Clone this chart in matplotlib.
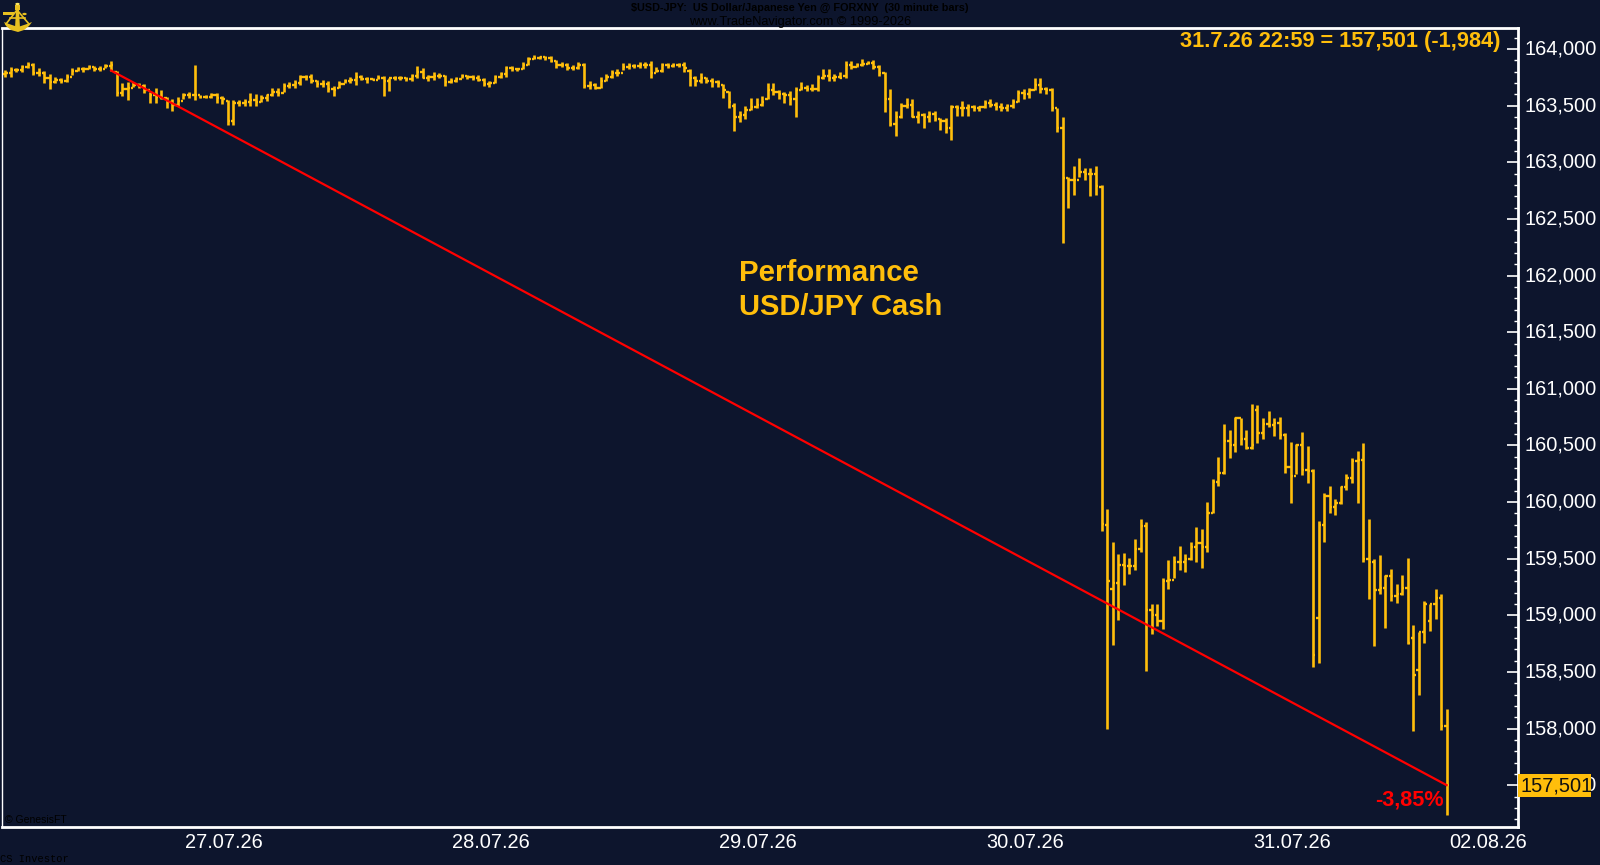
import matplotlib
matplotlib.use("Agg")
import matplotlib.pyplot as plt
from matplotlib.lines import Line2D
from matplotlib.patches import Polygon, Circle, Rectangle
from matplotlib.ticker import MultipleLocator

highs = [
163.815,163.844,163.835,163.859,163.882,163.879,163.835,163.809,163.779,163.750,
163.741,163.779,163.835,163.838,163.844,163.859,163.853,163.853,163.865,163.894,
163.806,163.697,163.712,163.706,163.697,163.691,163.624,163.653,163.638,163.579,
163.559,163.579,163.609,163.618,163.859,163.594,163.594,163.609,163.609,163.585,
163.547,163.547,163.550,163.559,163.609,163.600,163.594,163.603,163.653,163.653,
163.697,163.712,163.726,163.771,163.771,163.776,163.726,163.726,163.718,163.674,
163.721,163.732,163.750,163.800,163.771,163.750,163.741,163.771,163.765,163.741,
163.765,163.762,163.756,163.779,163.850,163.829,163.768,163.794,163.791,163.771,
163.741,163.756,163.779,163.774,163.771,163.771,163.741,163.718,163.771,163.800,
163.853,163.853,163.835,163.888,163.932,163.947,163.938,163.938,163.938,163.903,
163.888,163.879,163.859,163.888,163.879,163.718,163.697,163.750,163.779,163.815,
163.821,163.874,163.874,163.865,163.882,163.888,163.894,163.844,163.879,163.874,
163.874,163.874,163.888,163.824,163.765,163.785,163.756,163.741,163.726,163.688,
163.629,163.521,163.453,163.497,163.571,163.571,163.588,163.697,163.697,163.638,
163.624,163.632,163.668,163.706,163.682,163.688,163.771,163.824,163.821,163.776,
163.800,163.894,163.894,163.874,163.909,163.897,163.903,163.859,163.800,163.644,
163.453,163.521,163.565,163.556,163.456,163.438,163.456,163.453,163.388,163.388,
163.506,163.506,163.541,163.512,163.506,163.500,163.550,163.556,163.529,163.521,
163.515,163.556,163.638,163.647,163.653,163.741,163.747,163.662,163.653,163.482,
163.397,162.874,162.968,163.035,162.953,162.947,162.968,162.800,159.936,159.650,
159.540,159.550,159.510,159.670,159.850,159.820,159.100,159.100,159.330,159.490,
159.520,159.610,159.540,159.645,159.780,159.760,160.000,160.200,160.395,160.690,
160.640,160.750,160.740,160.640,160.870,160.860,160.745,160.800,160.740,160.750,
160.610,160.530,160.510,160.620,160.495,160.290,159.835,160.080,160.140,160.030,
160.140,160.250,160.390,160.455,160.520,159.850,159.500,159.530,159.360,159.405,
159.280,159.355,159.510,158.915,158.850,159.125,159.100,159.230,159.190,158.170]

lows = [
163.756,163.756,163.800,163.800,163.829,163.771,163.762,163.697,163.644,163.697,
163.697,163.712,163.771,163.806,163.800,163.821,163.809,163.809,163.835,163.806,
163.588,163.588,163.550,163.662,163.653,163.609,163.526,163.521,163.556,163.476,
163.453,163.497,163.559,163.571,163.550,163.565,163.565,163.565,163.526,163.515,
163.329,163.329,163.500,163.500,163.500,163.500,163.535,163.541,163.588,163.585,
163.624,163.653,163.653,163.682,163.726,163.697,163.662,163.662,163.624,163.585,
163.653,163.697,163.697,163.682,163.726,163.703,163.726,163.735,163.588,163.629,
163.726,163.726,163.718,163.718,163.741,163.741,163.718,163.726,163.741,163.674,
163.697,163.706,163.747,163.735,163.726,163.718,163.674,163.668,163.703,163.741,
163.756,163.806,163.806,163.821,163.859,163.909,163.909,163.903,163.882,163.835,
163.844,163.815,163.815,163.821,163.653,163.647,163.644,163.653,163.718,163.741,
163.765,163.815,163.824,163.829,163.835,163.829,163.741,163.794,163.800,163.835,
163.844,163.844,163.800,163.676,163.676,163.697,163.697,163.668,163.662,163.565,
163.482,163.276,163.359,163.382,163.462,163.476,163.497,163.559,163.594,163.559,
163.521,163.506,163.403,163.638,163.632,163.632,163.632,163.732,163.721,163.721,
163.741,163.747,163.821,163.838,163.853,163.868,163.821,163.765,163.447,163.321,
163.235,163.388,163.476,163.397,163.344,163.306,163.359,163.368,163.285,163.262,
163.197,163.409,163.409,163.409,163.456,163.453,163.482,163.491,163.462,163.453,
163.453,163.476,163.535,163.556,163.565,163.638,163.609,163.600,163.453,163.271,
162.291,162.600,162.712,162.874,162.844,162.706,162.712,159.745,158.000,158.740,
158.960,159.270,159.365,159.400,159.560,158.510,158.835,158.905,158.880,159.230,
159.330,159.400,159.385,159.490,159.470,159.420,159.560,159.900,160.145,160.245,
160.390,160.440,160.500,160.465,160.465,160.520,160.555,160.660,160.580,160.560,
160.260,159.990,160.250,160.240,160.165,158.540,158.575,159.645,159.900,159.885,
159.980,160.105,160.165,159.995,159.470,159.145,158.730,159.190,158.885,159.130,
159.110,159.180,158.745,157.980,158.300,158.760,158.865,158.970,157.990,157.240]

closes = [
163.790,163.815,163.815,163.840,163.855,163.790,163.790,163.740,163.710,163.725,
163.720,163.750,163.810,163.825,163.825,163.840,163.825,163.825,163.850,163.860,
163.610,163.650,163.660,163.680,163.670,163.640,163.590,163.580,163.570,163.530,
163.510,163.545,163.590,163.590,163.590,163.580,163.575,163.590,163.570,163.560,
163.360,163.520,163.520,163.530,163.550,163.530,163.570,163.590,163.620,163.610,
163.670,163.680,163.700,163.750,163.750,163.720,163.690,163.690,163.650,163.640,
163.690,163.715,163.725,163.750,163.735,163.735,163.730,163.745,163.720,163.740,
163.745,163.745,163.735,163.760,163.800,163.745,163.750,163.760,163.760,163.710,
163.720,163.735,163.760,163.750,163.745,163.730,163.695,163.700,163.750,163.780,
163.830,163.825,163.825,163.860,163.910,163.920,163.925,163.920,163.895,163.860,
163.860,163.835,163.835,163.860,163.670,163.680,163.660,163.720,163.750,163.790,
163.790,163.840,163.850,163.850,163.860,163.860,163.790,163.810,163.855,163.850,
163.855,163.860,163.830,163.740,163.720,163.745,163.720,163.710,163.700,163.640,
163.530,163.400,163.420,163.465,163.490,163.510,163.530,163.640,163.620,163.600,
163.590,163.560,163.640,163.660,163.650,163.650,163.740,163.760,163.740,163.750,
163.745,163.860,163.840,163.860,163.870,163.880,163.840,163.790,163.556,163.335,
163.400,163.500,163.510,163.400,163.415,163.400,163.425,163.380,163.360,163.300,
163.490,163.480,163.480,163.490,163.480,163.490,163.520,163.510,163.490,163.480,
163.500,163.530,163.610,163.600,163.640,163.680,163.650,163.640,163.480,163.305,
162.860,162.840,162.840,162.910,162.900,162.900,162.790,159.810,159.300,159.290,
159.445,159.440,159.440,159.590,159.790,159.050,159.000,158.950,159.300,159.310,
159.470,159.470,159.500,159.600,159.640,159.600,159.906,160.180,160.260,160.540,
160.500,160.740,160.560,160.480,160.500,160.610,160.690,160.680,160.700,160.590,
160.307,160.230,160.500,160.280,160.270,158.650,159.800,160.050,159.960,159.990,
160.135,160.210,160.360,160.370,159.500,159.470,159.220,159.240,159.350,159.170,
159.190,159.240,158.760,158.470,158.850,159.100,159.100,159.150,158.020,157.501]

opens = [
163.780,163.790,163.815,163.815,163.840,163.855,163.790,163.790,163.740,163.710,
163.725,163.720,163.750,163.810,163.825,163.825,163.840,163.825,163.825,163.850,
163.800,163.610,163.650,163.660,163.680,163.670,163.640,163.590,163.580,163.570,
163.530,163.510,163.545,163.590,163.590,163.590,163.580,163.575,163.590,163.570,
163.540,163.360,163.520,163.520,163.530,163.550,163.530,163.570,163.590,163.620,
163.610,163.670,163.680,163.700,163.750,163.750,163.720,163.690,163.690,163.650,
163.660,163.690,163.715,163.725,163.750,163.735,163.735,163.730,163.745,163.720,
163.740,163.745,163.745,163.735,163.760,163.800,163.745,163.750,163.760,163.760,
163.710,163.720,163.735,163.760,163.750,163.745,163.730,163.695,163.700,163.750,
163.780,163.830,163.825,163.825,163.860,163.910,163.920,163.925,163.920,163.895,
163.860,163.860,163.835,163.835,163.860,163.670,163.680,163.660,163.720,163.750,
163.790,163.790,163.840,163.850,163.850,163.860,163.860,163.790,163.810,163.855,
163.850,163.855,163.860,163.810,163.740,163.720,163.745,163.720,163.710,163.680,
163.620,163.500,163.400,163.420,163.465,163.490,163.510,163.560,163.640,163.620,
163.600,163.590,163.560,163.640,163.660,163.650,163.650,163.740,163.760,163.740,
163.750,163.760,163.860,163.840,163.860,163.870,163.880,163.840,163.790,163.556,
163.335,163.400,163.500,163.510,163.400,163.415,163.400,163.425,163.380,163.360,
163.300,163.490,163.480,163.480,163.490,163.480,163.490,163.520,163.510,163.490,
163.480,163.500,163.530,163.610,163.600,163.640,163.680,163.650,163.640,163.480,
163.305,162.860,162.840,162.840,162.910,162.900,162.900,162.785,159.800,159.230,
159.290,159.445,159.440,159.440,159.590,159.790,159.050,159.000,158.950,159.300,
159.310,159.470,159.470,159.500,159.600,159.640,159.600,159.906,160.180,160.260,
160.540,160.500,160.740,160.560,160.480,160.810,160.610,160.690,160.680,160.700,
160.590,160.307,160.230,160.500,160.280,160.270,158.980,159.800,160.050,159.960,
159.990,160.135,160.210,160.360,160.370,159.500,159.470,159.220,159.240,159.350,
159.170,159.190,159.240,158.800,158.520,158.850,158.950,159.100,159.150,158.020]

date_labels = ["27.07.26", "28.07.26", "29.07.26", "30.07.26", "31.07.26", "02.08.26"]
date_positions = [39.3, 87.3, 135.3, 183.3, 231.3, 266.4]
trend_start = (19, 163.81)
trend_end = (259, 157.501)

W, H = 1600, 865
BG = "#0D152D"
GOLD = "#FFBE0B"
plt.rcParams["font.family"] = ["Liberation Sans", "DejaVu Sans"]

fig = plt.figure(figsize=(W / 100, H / 100), dpi=100, facecolor=BG)
L, R, T, B = 1.5, 1518.0, 28.0, 827.0
ax = fig.add_axes([L / W, 1 - B / H, (R - L) / W, (B - T) / H], facecolor=BG)

PX = 5.565
ax.set_xlim((L - 5.3) / PX, (R - 5.3) / PX)
ax.set_ylim(164 - (B - 49) / 113.27, 164 + (49 - T) / 113.27)

x = list(range(len(highs)))
lw = 1.9
ax.vlines(x, lows, highs, color=GOLD, lw=lw, zorder=3)
ax.hlines(opens, [i - 0.42 for i in x], x, color=GOLD, lw=1.7, zorder=3)
ax.hlines(closes, x, [i + 0.42 for i in x], color=GOLD, lw=1.7, zorder=3)
ax.plot([trend_start[0], trend_end[0]], [trend_start[1], trend_end[1]],
        color="#FF0000", lw=1.6, zorder=4)

for s in ax.spines.values():
    s.set_color("white")
    s.set_linewidth(2.0)
ax.spines["left"].set_linewidth(1.0)

ax.set_xticks(date_positions, date_labels)
ax.tick_params(axis="x", length=0, pad=4, labelsize=14.4, labelcolor="white")
ax.yaxis.tick_right()
ax.yaxis.set_major_locator(MultipleLocator(0.5))
ax.yaxis.set_minor_locator(MultipleLocator(0.1))
ax.yaxis.set_major_formatter(lambda v, p: f"{v:.3f}".replace(".", ","))
ax.tick_params(axis="y", which="major", direction="in", length=8, width=1.2,
               color="white", pad=5, labelsize=14.4, labelcolor="white")
ax.tick_params(axis="y", which="minor", direction="in", length=3, width=1.0, color="white")
for lab in ax.get_yticklabels():
    lab.set_verticalalignment("center")

fig.text(1500 / W, 1 - 41 / H, "31.7.26 22:59 = 157,501 (-1,984)", color=GOLD,
         fontsize=15.7, fontweight="bold", ha="right", va="center")
fig.text(739 / W, 1 - 273 / H, "Performance", color=GOLD, fontsize=21.2,
         fontweight="bold", ha="left", va="center")
fig.text(739 / W, 1 - 307 / H, "USD/JPY Cash", color=GOLD, fontsize=21,
         fontweight="bold", ha="left", va="center")
fig.text(1444 / W, 1 - 800 / H, "-3,85%", color="#FF0000", fontsize=15.6,
         fontweight="bold", ha="right", va="center")
fig.patches.append(Rectangle((1518 / W, 1 - 797 / H), 73 / W, 23 / H, transform=fig.transFigure,
                             fc=GOLD, ec="none", zorder=9))
fig.text(1520 / W, 1 - 785.5 / H, "157,501", color="#111111", fontsize=14.4, ha="left",
         va="center", zorder=10)

fig.text(800 / W, 1 - 8 / H, "$USD-JPY:  US Dollar/Japanese Yen @ FORXNY  (30 minute bars)",
         color="#000000", fontsize=7.8, fontweight="bold", ha="center", va="center")
fig.text(800 / W, 1 - 22 / H, "www.TradeNavigator.com © 1999-2026",
         color="#000000", fontsize=9.2, ha="center", va="center", zorder=1)
fig.text(5 / W, 1 - 820 / H, "© GenesisFT", color="#000000", fontsize=7.5, ha="left", va="center")
fig.text(0 / W, 1 - 859 / H, "CS Investor", color="#000000", fontsize=7.5,
         family="Liberation Mono", ha="left", va="center")


def px(a, b):
    return (a / W, 1 - b / H)


logo_gold = "#E8C020"
logo_light = "#FFE860"
logo_polys = (
    [(15, 5), (20, 5), (20, 10), (19, 10), (20, 28), (15, 28), (16, 10), (15, 10)],
    [(4, 22), (9, 24), (18, 27), (27, 24), (32, 22), (29, 26), (24, 30), (18, 32), (11, 30), (6, 26)],
    [(3, 12), (14, 12), (14, 15), (3, 15)],
)
for poly in logo_polys:
    fig.patches.append(Polygon([px(*p) for p in poly], closed=True, transform=fig.transFigure,
                               fc=logo_gold, ec="none", zorder=8))
for seg in ([(17, 10), (6, 24)], [(17, 10), (29, 24)], [(10, 18), (25, 18)]):
    fig.add_artist(Line2D([px(*p)[0] for p in seg], [px(*p)[1] for p in seg],
                          color=logo_gold, lw=1.2, transform=fig.transFigure, zorder=8))
fig.patches.append(Circle(px(17.5, 4), 2.2 / W, transform=fig.transFigure, fc=logo_light, ec="none", zorder=8))
fig.patches.append(Circle(px(24.5, 14), 2.2 / W, transform=fig.transFigure, fc=logo_gold, ec="none", zorder=8))

fig.savefig("out.png", dpi=100, facecolor=BG)
